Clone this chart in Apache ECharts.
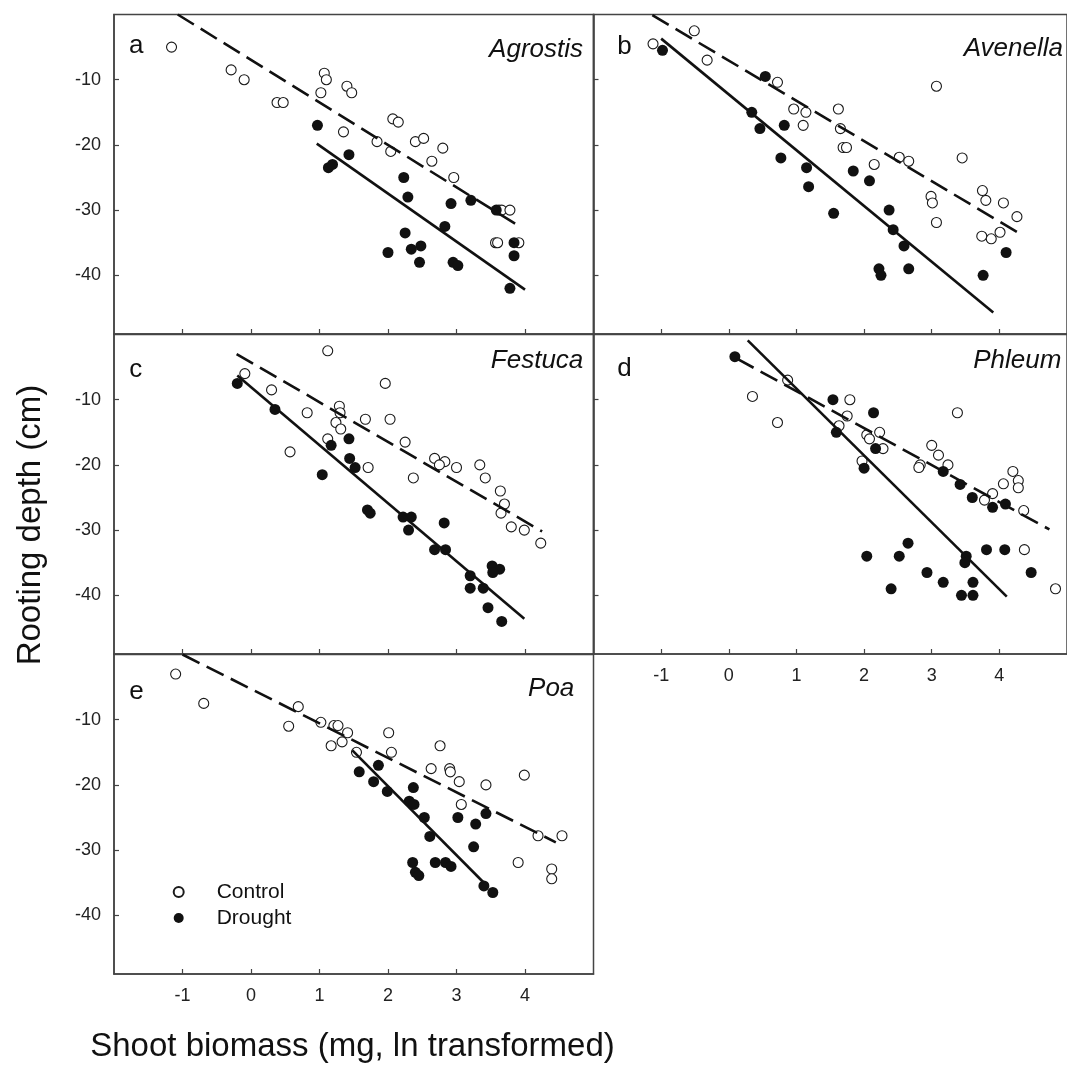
<!DOCTYPE html>
<html>
<head>
<meta charset="utf-8">
<script src="https://cdn.jsdelivr.net/npm/echarts@6/dist/echarts.min.js"></script>
<style>
html,body{margin:0;padding:0;background:#fff;}
#chart{width:1067px;height:1068px;}
</style>
</head>
<body>
<div id="chart"></div>
<script>
// ---------- data (x = ln shoot biomass, y = rooting depth cm) ----------
const xTicks = [-1, 0, 1, 2, 3, 4];
const yTicks = [-40, -30, -20, -10];
const panelLetters = ['a', 'b', 'c', 'd', 'e'];
const speciesNames = ['Agrostis', 'Avenella', 'Festuca', 'Phleum', 'Poa'];
const legendNames = ['Control', 'Drought'];

const aControl = [[-1.16,-5],[-0.29,-8.5],[-0.10,-10],[0.38,-13.5],[0.47,-13.5],[1.02,-12],[1.07,-9],[1.10,-10],[1.40,-11],[1.47,-12],[1.35,-18],[2.07,-16],[2.15,-16.5],[1.84,-19.5],[2.04,-21],[2.40,-19.5],[2.52,-19],[2.64,-22.5],[2.80,-20.5],[2.96,-25],[3.62,-30],[3.66,-30],[3.78,-30],[3.57,-35],[3.60,-35],[3.91,-35]];
const aDrought = [[0.97,-17],[1.13,-23.5],[1.19,-23],[1.43,-21.5],[2.23,-25],[2.29,-28],[2.92,-29],[3.21,-28.5],[3.58,-30],[2.83,-32.5],[2.25,-33.5],[2.00,-36.5],[2.34,-36],[2.48,-35.5],[2.46,-38],[2.95,-38],[3.02,-38.5],[3.84,-35],[3.84,-37],[3.78,-42]];
const aControlFit = [[-1.07,0],[3.92,-32.5]];
const aDroughtFit = [[0.96,-19.8],[4.00,-42.2]];

const bControl = [[-1.12,-4.5],[-0.51,-2.5],[-0.32,-7],[0.72,-10.4],[0.96,-14.5],[1.14,-15],[1.10,-17],[1.62,-14.5],[1.65,-17.5],[1.69,-20.4],[1.74,-20.4],[2.15,-23],[2.52,-21.9],[2.66,-22.5],[3.07,-11],[3.45,-22],[2.99,-27.9],[3.01,-28.9],[3.07,-31.9],[3.75,-27],[3.80,-28.5],[4.06,-28.9],[4.26,-31],[3.74,-34],[3.88,-34.4],[4.01,-33.4]];
const bDrought = [[-0.98,-5.5],[0.54,-9.5],[0.34,-15],[0.46,-17.5],[0.82,-17],[0.77,-22],[1.15,-23.5],[1.18,-26.4],[1.55,-30.5],[1.84,-24],[2.08,-25.5],[2.37,-30],[2.43,-33],[2.59,-35.5],[2.22,-39],[2.25,-40],[2.66,-39],[3.76,-40],[4.10,-36.5]];
const bControlFit = [[-1.13,-0.1],[4.27,-33.4]];
const bDroughtFit = [[-1.00,-3.7],[3.91,-45.7]];

const cControl = [[1.12,-2.5],[-0.09,-6],[0.30,-8.5],[0.82,-12],[0.57,-18],[1.29,-11],[1.30,-12],[1.24,-13.5],[1.31,-14.5],[1.12,-16],[1.96,-7.5],[1.67,-13],[2.03,-13],[2.25,-16.5],[1.71,-20.4],[2.37,-22],[2.68,-19],[2.83,-19.5],[2.75,-20],[3.00,-20.4],[3.34,-20],[3.42,-22],[3.64,-24],[3.70,-26],[3.65,-27.4],[3.80,-29.5],[3.99,-30],[4.23,-32]];
const cDrought = [[-0.20,-7.5],[0.35,-11.5],[1.43,-16],[1.17,-17],[1.44,-19],[1.52,-20.4],[1.04,-21.5],[1.70,-26.9],[1.74,-27.4],[2.22,-28],[2.34,-28],[2.30,-30],[2.82,-28.9],[2.68,-33],[2.84,-33],[3.20,-37],[3.20,-38.9],[3.39,-38.9],[3.46,-41.9],[3.66,-44],[3.52,-35.5],[3.63,-36],[3.53,-36.5]];
const cControlFit = [[-0.21,-3],[4.25,-30.2]];
const cDroughtFit = [[-0.20,-6.3],[3.99,-43.6]];

const dControl = [[0.35,-9.5],[0.72,-13.5],[0.87,-7],[1.79,-10],[1.75,-12.5],[1.63,-14],[2.04,-15.4],[2.08,-16],[2.23,-15],[2.28,-17.5],[1.97,-19.4],[3.38,-12],[3.00,-17],[3.10,-18.5],[3.24,-20],[2.83,-20],[2.81,-20.4],[4.20,-21],[4.28,-22.4],[4.28,-23.5],[4.06,-22.9],[3.90,-24.4],[3.78,-25.4],[4.36,-27],[4.37,-33],[4.83,-39]];
const dDrought = [[0.09,-3.4],[1.54,-10],[2.14,-12],[1.59,-15],[2.17,-17.5],[2.00,-20.5],[3.17,-21],[3.42,-23],[3.60,-25],[3.90,-26.5],[4.09,-26],[2.65,-32],[2.04,-34],[2.52,-34],[3.51,-34],[3.49,-35],[3.81,-33],[4.08,-33],[2.93,-36.5],[3.17,-38],[3.61,-38],[4.47,-36.5],[2.40,-39],[3.44,-40],[3.61,-40]];
const dControlFit = [[0.12,-3.7],[4.74,-29.9]];
const dDroughtFit = [[0.28,-0.9],[4.11,-40.2]];

const eControl = [[-1.10,-3],[-0.69,-7.5],[0.55,-11],[0.69,-8],[1.02,-10.4],[1.21,-10.9],[1.27,-10.9],[1.17,-14],[1.33,-13.4],[1.41,-12],[1.54,-15],[2.01,-12],[2.05,-15],[2.76,-14],[2.63,-17.5],[2.90,-17.5],[2.91,-18],[3.04,-19.5],[3.43,-20],[3.07,-23],[3.99,-18.5],[4.19,-27.8],[4.54,-27.8],[3.90,-31.9],[4.39,-32.9],[4.39,-34.4]];
const eDrought = [[1.58,-18],[1.86,-17],[1.79,-19.5],[1.99,-21],[2.37,-20.4],[2.31,-22.5],[2.38,-23],[2.53,-25],[3.02,-25],[3.28,-26],[3.43,-24.4],[2.61,-27.9],[3.25,-29.5],[2.36,-31.9],[2.69,-31.9],[2.84,-31.9],[2.92,-32.5],[2.40,-33.4],[2.45,-33.9],[3.40,-35.5],[3.53,-36.5]];
const eControlFit = [[-1.00,0],[4.45,-28.8]];
const eDroughtFit = [[1.48,-14.7],[3.40,-35.0]];

// ---------- layout ----------
const FONT = '"Liberation Sans", Arial, Helvetica, sans-serif';
const INK = '#111';
const FRAME = '#444';
const panelData = [
  [aControl, aDrought, aControlFit, aDroughtFit],
  [bControl, bDrought, bControlFit, bDroughtFit],
  [cControl, cDrought, cControlFit, cDroughtFit],
  [dControl, dDrought, dControlFit, dDroughtFit],
  [eControl, eDrought, eControlFit, eDroughtFit]
];
const layout = [
  {left: 114,   top: 14.5,  xLab: false, yLab: true,  lx: 129,   ly: 45.5,  sx: 583,    sy: 49.3},
  {left: 593.5, top: 14.5,  xLab: false, yLab: false, lx: 617.3, ly: 46.7,  sx: 1063,   sy: 49},
  {left: 114,   top: 334.5, xLab: false, yLab: true,  lx: 129.3, ly: 370,   sx: 583.3,  sy: 360.3},
  {left: 593.5, top: 334.5, xLab: true,  yLab: false, lx: 617.3, ly: 369.3, sx: 1061.3, sy: 360.3},
  {left: 114,   top: 654.5, xLab: true,  yLab: true,  lx: 129.3, ly: 691.5, sx: 574.3,  sy: 689}
];
const GW = 479.5, GH = 319.5;

const grid = [], xAxis = [], yAxis = [], series = [], graphic = [];
layout.forEach((L, i) => {
  grid.push({left: L.left, top: L.top, width: GW, height: GH, show: true,
    borderColor: FRAME, borderWidth: 1.5, backgroundColor: 'transparent', containLabel: false});
  xAxis.push({
    type: 'value', gridIndex: i, min: -2, max: 5,
    axisLine: {show: true, onZero: false, lineStyle: {color: FRAME, width: 1.5}},
    axisTick: {show: true, inside: true, length: 5, customValues: xTicks, lineStyle: {color: FRAME, width: 1.2}},
    axisLabel: {show: L.xLab, customValues: xTicks, margin: 13, fontSize: 18, color: '#222', fontFamily: FONT},
    splitLine: {show: false}
  });
  yAxis.push({
    type: 'value', gridIndex: i, min: -49, max: 0,
    axisLine: {show: true, onZero: false, lineStyle: {color: FRAME, width: 1.5}},
    axisTick: {show: true, inside: true, length: 5, customValues: yTicks, lineStyle: {color: FRAME, width: 1.2}},
    axisLabel: {show: L.yLab, customValues: yTicks, margin: 13, fontSize: 18, color: '#222', fontFamily: FONT},
    splitLine: {show: false}
  });
  const [ctrl, drt, cFit, dFit] = panelData[i];
  series.push({
    type: 'scatter', name: legendNames[0], xAxisIndex: i, yAxisIndex: i, data: ctrl,
    symbol: 'circle', symbolSize: 10, z: 2,
    itemStyle: {color: '#fff', borderColor: '#1a1a1a', borderWidth: 1.1, opacity: 1},
    emphasis: {disabled: true}
  });
  series.push({
    type: 'scatter', name: legendNames[1], xAxisIndex: i, yAxisIndex: i, data: drt,
    symbol: 'circle', symbolSize: 11, z: 3,
    itemStyle: {color: INK, borderColor: INK, borderWidth: 0, opacity: 1},
    emphasis: {disabled: true}
  });
  series.push({
    type: 'line', name: 'Control fit', xAxisIndex: i, yAxisIndex: i, data: cFit,
    symbol: 'none', showSymbol: false, z: 4, silent: true,
    lineStyle: {color: INK, width: 2.6, type: [19, 8]},
    emphasis: {disabled: true}
  });
  series.push({
    type: 'line', name: 'Drought fit', xAxisIndex: i, yAxisIndex: i, data: dFit,
    symbol: 'none', showSymbol: false, z: 4, silent: true,
    lineStyle: {color: INK, width: 2.6, type: 'solid'},
    emphasis: {disabled: true}
  });
  graphic.push({type: 'text', x: L.lx, y: L.ly, z: 10,
    style: {text: panelLetters[i], font: '26px ' + FONT, fill: '#111', align: 'left', verticalAlign: 'middle'}});
  graphic.push({type: 'text', x: L.sx, y: L.sy, z: 10,
    style: {text: speciesNames[i], font: 'italic 26px ' + FONT, fill: '#111', align: 'right', verticalAlign: 'middle'}});
});

graphic.push({type: 'text', x: 352.5, y: 1047, z: 10,
  style: {text: 'Shoot biomass (mg, ln transformed)', font: '33px ' + FONT, fill: '#111', align: 'center', verticalAlign: 'middle'}});
graphic.push({type: 'text', x: 31, y: 525, rotation: Math.PI / 2, z: 10,
  style: {text: 'Rooting depth (cm)', font: '33px ' + FONT, fill: '#111', align: 'center', verticalAlign: 'middle'}});

const option = {
  animation: false,
  backgroundColor: '#fff',
  grid, xAxis, yAxis, series, graphic,
  legend: {
    data: legendNames, orient: 'vertical', left: 172.7, top: 881,
    itemWidth: 10, itemHeight: 10, itemGap: 4, icon: 'circle', selectedMode: false,
    padding: 0,
    textStyle: {fontSize: 21, lineHeight: 22, color: '#111', fontFamily: FONT, padding: [0, 0, 0, 28]}
  }
};

const chart = echarts.init(document.getElementById('chart'), null, {renderer: 'canvas'});
chart.setOption(option);
</script>
</body>
</html>
